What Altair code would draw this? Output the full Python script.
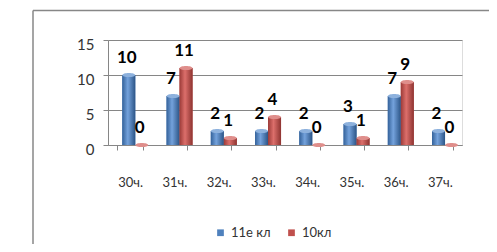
import altair as alt
import pandas as pd

categories = ["30ч.", "31ч.", "32ч.", "33ч.", "34ч.", "35ч.", "36ч.", "37ч."]
series_names = ["11е кл", "10кл"]
values_11e = [10, 7, 2, 2, 2, 3, 7, 2]
values_10 = [0, 11, 1, 4, 0, 1, 9, 0]
y_ticks = [0, 5, 10, 15]
title_text = "Соответствие нагрузки нормам СанПиН"

flat_colors = ["#4F81BD", "#C0504D"]
body_stops = [
    [("#34629a", 0.0), ("#74a2dc", 0.42), ("#2c5587", 1.0)],
    [("#9c3b38", 0.0), ("#dc6f6b", 0.42), ("#8e3431", 1.0)],
]
cap_colors = ["#8db1dd", "#df8e8b"]
ELLIPSE = "M -1 0 A 1 0.32 0 1 0 1 0 A 1 0.32 0 1 0 -1 0 Z"

W, H = 354, 105
GRAY = "#868686"
TXT = "#333333"

df = pd.DataFrame({
    "cat": categories + categories,
    "series": [series_names[0]] * len(categories) + [series_names[1]] * len(categories),
    "value": values_11e + values_10,
})

x_enc = alt.X(
    "cat:N", sort=categories,
    scale=alt.Scale(paddingInner=0.42, paddingOuter=0.21),
    axis=alt.Axis(title=None, labelAngle=0, tickBand="extent", labelFont="Lato",
                  labelFontSize=13, labelColor=TXT, labelPadding=26, tickSize=5,
                  domainColor=GRAY, tickColor=GRAY, grid=False),
)
xo_enc = alt.XOffset("series:N", sort=series_names,
                     scale=alt.Scale(domain=series_names, range=[5, 31]))
y_enc = alt.Y(
    "value:Q", scale=alt.Scale(domain=[0, 15], nice=False, zero=True),
    axis=alt.Axis(values=y_ticks, title=None, labelFont="Lato", labelFontSize=15,
                  labelColor=TXT, labelPadding=9, tickSize=5, labelOffset=4,
                  domainColor=GRAY, tickColor=GRAY, gridColor=GRAY, grid=True),
)

frame_src = pd.DataFrame({"a": [0]})
frame_left = alt.Chart(frame_src).mark_rule(color="#878787", strokeWidth=1.5).encode(
    x=alt.value(-75), y=alt.value(-29.5), y2=alt.value(320)
)
frame_top = alt.Chart(frame_src).mark_rule(color="#878787", strokeWidth=1.5).encode(
    x=alt.value(-75), x2=alt.value(480), y=alt.value(-29.5)
)

base = alt.Chart(df).mark_bar().encode(
    x=x_enc, xOffset=xo_enc, y=y_enc,
    color=alt.Color(
        "series:N", sort=series_names,
        scale=alt.Scale(domain=series_names, range=flat_colors),
        legend=alt.Legend(title=None, orient="none", direction="horizontal",
                          legendX=106, legendY=186, symbolType="square", symbolSize=45,
                          symbolStrokeWidth=0, labelFont="Lato", labelFontSize=13,
                          labelColor=TXT, columnPadding=14, padding=0),
    ),
)

grad_layers = []
cap_layers = []
for name, stops, cap in zip(series_names, body_stops, cap_colors):
    grad = alt.Gradient(
        gradient="linear", x1=0, x2=1, y1=0, y2=0,
        stops=[alt.GradientStop(offset=o, color=c) for c, o in stops],
    )
    grad_layers.append(
        alt.Chart(df).transform_filter(alt.datum.series == name)
        .mark_bar(color=grad)
        .encode(x=x_enc, xOffset=xo_enc, y=y_enc)
    )
    cap_layers.append(
        alt.Chart(df).transform_filter(alt.datum.series == name)
        .mark_point(shape=ELLIPSE, filled=True, size=165, color=cap, opacity=1, strokeWidth=0)
        .encode(x=x_enc, xOffset=xo_enc, y=y_enc)
    )

labels = alt.Chart(df).mark_text(
    font="Lato", fontSize=17, fontWeight="bold", color="black",
    baseline="alphabetic", dy=-12, dx=-2
).encode(x=x_enc, xOffset=xo_enc, y=y_enc, text="value:Q")

chart = alt.layer(frame_left, frame_top, base, *grad_layers, *cap_layers, labels).properties(
    width=W, height=H,
    padding={"left": 100, "top": 32, "right": 27, "bottom": 99},
    autosize=alt.AutoSizeParams(type="none"),
    title=alt.TitleParams(text=title_text, font="Liberation Serif", fontSize=21,
                          fontWeight="normal", anchor="start", dx=-71, offset=5,
                          baseline="alphabetic", color="black"),
).configure_view(strokeWidth=0).configure(background="white")

chart.save("out.html", embed_options={"renderer": "svg", "actions": False})
